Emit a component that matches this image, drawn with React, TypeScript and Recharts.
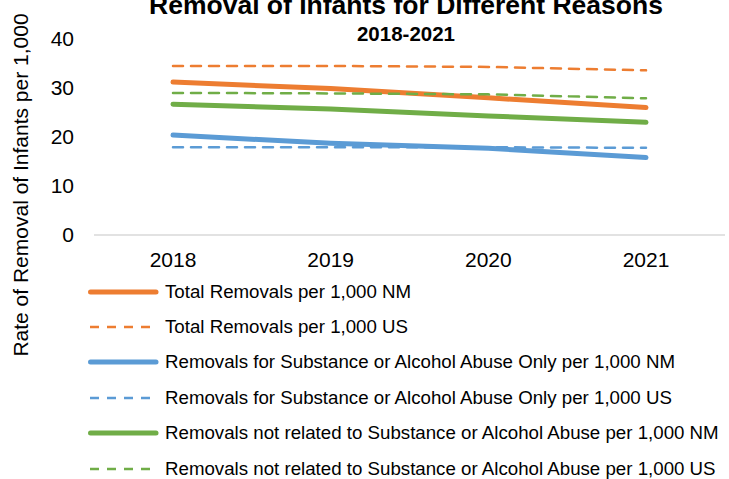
import { LineChart, Line, XAxis, YAxis } from 'recharts';

const years = ['2018', '2019', '2020', '2021'];
const totalNM = [31.2, 29.9, 28.0, 26.0];
const totalUS = [34.5, 34.5, 34.3, 33.6];
const substanceNM = [20.4, 18.7, 17.7, 15.8];
const substanceUS = [17.9, 17.9, 17.9, 17.8];
const otherNM = [26.7, 25.7, 24.3, 23.0];
const otherUS = [29.0, 28.9, 28.7, 27.9];
const yTicks = [0, 10, 20, 30, 40];

const series = [
  { key: 'totalNM', name: 'Total Removals per 1,000 NM', color: '#ED7D31', dashed: false, values: totalNM },
  { key: 'totalUS', name: 'Total Removals per 1,000 US', color: '#ED7D31', dashed: true, values: totalUS },
  { key: 'substanceNM', name: 'Removals for Substance or Alcohol Abuse Only per 1,000 NM', color: '#5B9BD5', dashed: false, values: substanceNM },
  { key: 'substanceUS', name: 'Removals for Substance or Alcohol Abuse Only per 1,000 US', color: '#5B9BD5', dashed: true, values: substanceUS },
  { key: 'otherNM', name: 'Removals not related to Substance or Alcohol Abuse per 1,000 NM', color: '#70AD47', dashed: false, values: otherNM },
  { key: 'otherUS', name: 'Removals not related to Substance or Alcohol Abuse per 1,000 US', color: '#70AD47', dashed: true, values: otherUS },
];

const data = years.map((year, i) => {
  const row: Record<string, string | number> = { year };
  series.forEach((s) => {
    row[s.key] = s.values[i];
  });
  return row;
});

const font = '"Liberation Sans", Arial, sans-serif';

function LegendList() {
  return (
    <div
      style={{
        position: 'absolute',
        top: 274,
        left: 85,
        fontFamily: font,
        fontSize: 18.7,
        color: '#000',
      }}
    >
      {series.map((s) => (
        <div key={s.key} style={{ display: 'flex', alignItems: 'center', height: 35.4 }}>
          <svg width={74} height={10} style={{ marginRight: 6 }}>
            <line
              x1={s.dashed ? 5 : 5.5}
              x2={s.dashed ? 70 : 71}
              y1={5}
              y2={5}
              stroke={s.color}
              strokeWidth={s.dashed ? 2.5 : 5}
              strokeLinecap={s.dashed ? 'butt' : 'round'}
              strokeDasharray={s.dashed ? '9 8' : undefined}
            />
          </svg>
          <span style={{ whiteSpace: 'nowrap' }}>{s.name}</span>
        </div>
      ))}
    </div>
  );
}

export default function App() {
  return (
    <div style={{ position: 'relative', width: 729, height: 479, background: '#fff', overflow: 'hidden' }}>
      <style>{'body{margin:0}'}</style>
      <div
        style={{
          position: 'absolute',
          top: -8.4,
          left: 0,
          width: 812,
          textAlign: 'center',
          fontFamily: font,
          fontWeight: 'bold',
          fontSize: 26.5,
          lineHeight: 1,
          whiteSpace: 'nowrap',
        }}
      >
        Removal of Infants for Different Reasons
      </div>
      <div
        style={{
          position: 'absolute',
          top: 23.6,
          left: 0,
          width: 812,
          textAlign: 'center',
          fontFamily: font,
          fontWeight: 'bold',
          fontSize: 20.5,
          lineHeight: 1,
        }}
      >
        2018-2021
      </div>
      <div
        style={{
          position: 'absolute',
          left: 20,
          top: 185,
          transform: 'translate(-50%, -50%) rotate(-90deg)',
          fontFamily: font,
          fontSize: 21,
          lineHeight: 1,
          whiteSpace: 'nowrap',
        }}
      >
        Rate of Removal of Infants per 1,000
      </div>
      <LineChart
        width={729}
        height={479}
        data={data}
        margin={{ top: 39, right: 4, left: 0, bottom: 214 }}
        style={{ fontFamily: font, position: 'absolute', top: 0, left: 0 }}
      >
        <XAxis
          dataKey="year"
          height={30}
          padding={{ left: 79, right: 79 }}
          axisLine={{ stroke: '#d9d9d9', strokeWidth: 1.5 }}
          tickLine={false}
          tickMargin={11.5}
          tick={{ fill: '#000', fontSize: 21 }}
        />
        <YAxis
          width={94}
          domain={[0, 40]}
          ticks={yTicks}
          axisLine={false}
          tickLine={false}
          tickSize={0}
          tickMargin={20}
          tick={{ fill: '#000', fontSize: 21 }}
        />
        {series.map((s) => (
          <Line
            key={s.key}
            dataKey={s.key}
            name={s.name}
            type="linear"
            stroke={s.color}
            strokeWidth={s.dashed ? 2.5 : 5}
            strokeDasharray={s.dashed ? '10 8' : undefined}
            strokeLinecap="round"
            dot={false}
            activeDot={false}
            isAnimationActive={false}
          />
        ))}
      </LineChart>
      <LegendList />
    </div>
  );
}
